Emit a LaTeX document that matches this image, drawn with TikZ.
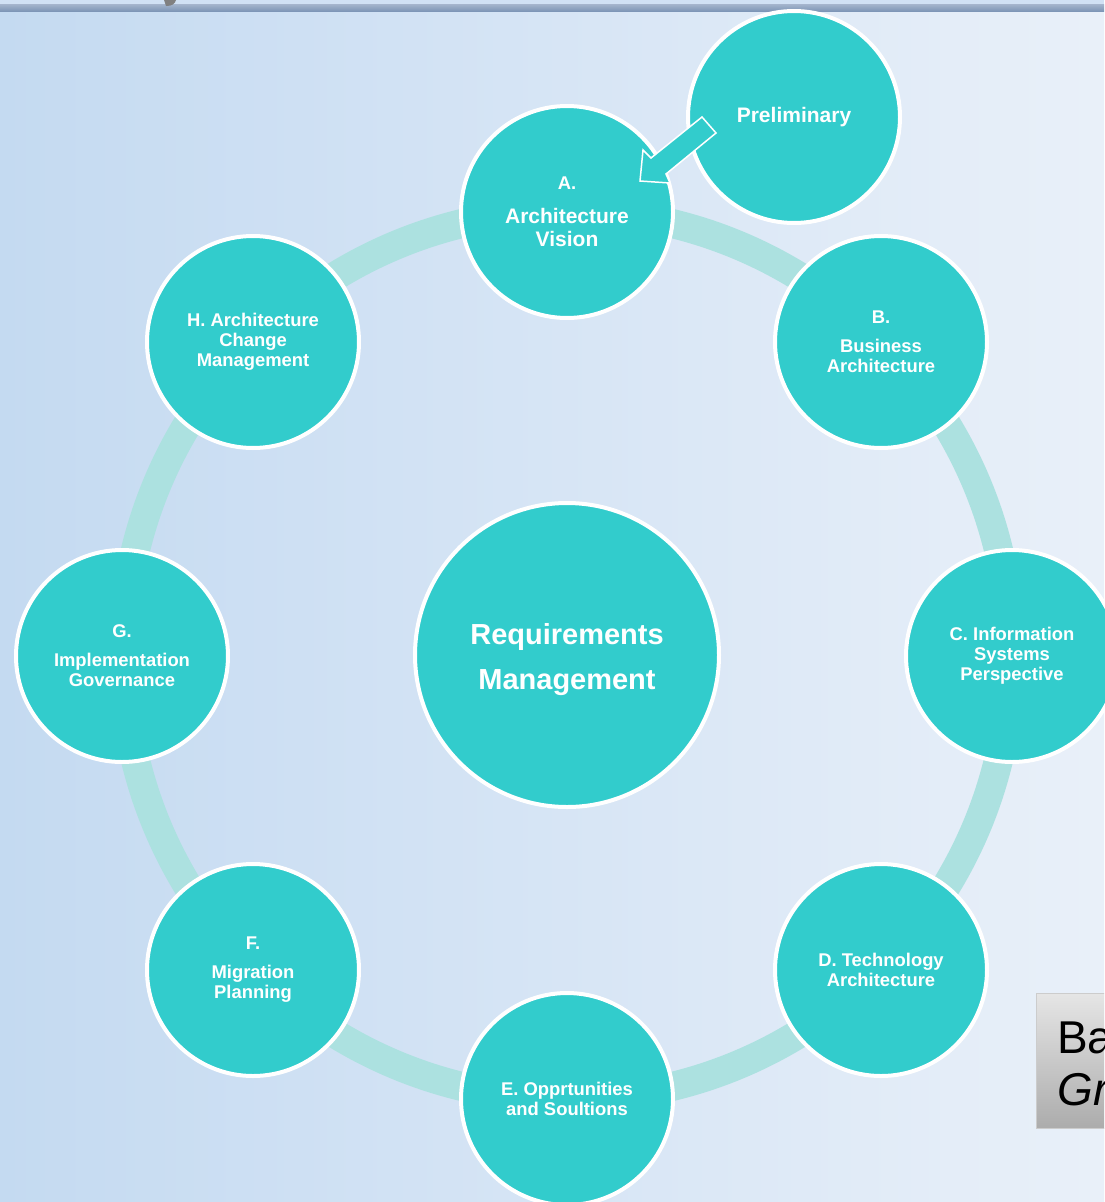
\documentclass[tikz,border=0pt]{standalone}
\usepackage{fontspec}
\setmainfont{Liberation Sans}
\begin{document}
\begin{tikzpicture}[x=1pt,y=-1pt,
  phase/.style={circle, fill=teal1, draw=white, line width=4pt, minimum size=212pt, inner sep=0pt,
    text=white, align=center, font=\bfseries\fontsize{18.4}{20}\selectfont},
  hub/.style={circle, fill=teal1, draw=white, line width=4pt, minimum size=304pt, inner sep=0pt,
    text=white, align=center, font=\bfseries\fontsize{29}{45}\selectfont}]
\definecolor{teal1}{RGB}{50,204,204}
\definecolor{ringc}{RGB}{172,225,224}
\definecolor{bgl}{RGB}{196,218,241}
\definecolor{bgr}{RGB}{233,240,249}
\definecolor{barc}{RGB}{126,150,183}
\useasboundingbox (0,0) rectangle (1104,1202);
% background
\shade[left color=bgl, right color=bgr] (0,0) rectangle (1104,1202);
\fill[bgl!80!white] (0,0) rectangle (1104,5);
\shade[top color=barc!70!white, bottom color=barc] (0,4) rectangle (1104,11);
\fill[gray] (164,0) -- (176,0) .. controls (175,4) and (172,6) .. (166,6) -- cycle;
% ring
\coordinate (ctr) at (567,655);
\draw[ringc, line width=29pt] (ctr) circle (444);
% hub
\node[hub] (req) at (ctr) {};
\node[text=white, align=center, font=\bfseries\fontsize{29}{45}\selectfont] (reqt) at (567,660) {Requirements\\Management};
% phases
\node[phase] (a) at (567,212) {A.\\[14pt]{\fontsize{21}{24}\selectfont Architecture}\\[3pt]{\fontsize{21}{24}\selectfont Vision}};
\node[phase] (b) at (881,342) {B.\\[9pt]Business\\Architecture};
\node[phase] (c) at (1012,656) {C. Information\\Systems\\Perspective};
\node[phase] (d) at (881,970) {D. Technology\\Architecture};
\node[phase] (e) at (567,1099) {E. Opprtunities\\and Soultions};
\node[phase] (f) at (253,970) {F.\\[9pt]Migration\\Planning};
\node[phase] (g) at (122,656) {G.\\[9pt]Implementation\\Governance};
\node[phase] (h) at (253,342) {H. Architecture\\Change\\Management};
\node[phase, font=\bfseries\fontsize{21}{24}\selectfont] (pre) at (794,117) {Preliminary};
% block arrow from Preliminary to A
\filldraw[fill=teal1, draw=white, line width=1.5pt, line join=miter]
  (702,117) -- (716,133) -- (666,174) -- (670,183) -- (640,181) -- (643,150) -- (651,158) -- cycle;
% bottom-right box
\begin{scope}
\clip (0,0) rectangle (1104,1202);
\shade[top color=gray!20, bottom color=gray!65, draw=gray!40] (1036,993) rectangle (1180,1128);
\node[anchor=base west, inner sep=0pt, font=\fontsize{46}{50}\selectfont] (ba) at (1057,1053) {Ba};
\node[anchor=base west, inner sep=0pt, font=\itshape\fontsize{46}{50}\selectfont] (gr) at (1057,1105) {Gr};
\end{scope}
\end{tikzpicture}
\end{document}
